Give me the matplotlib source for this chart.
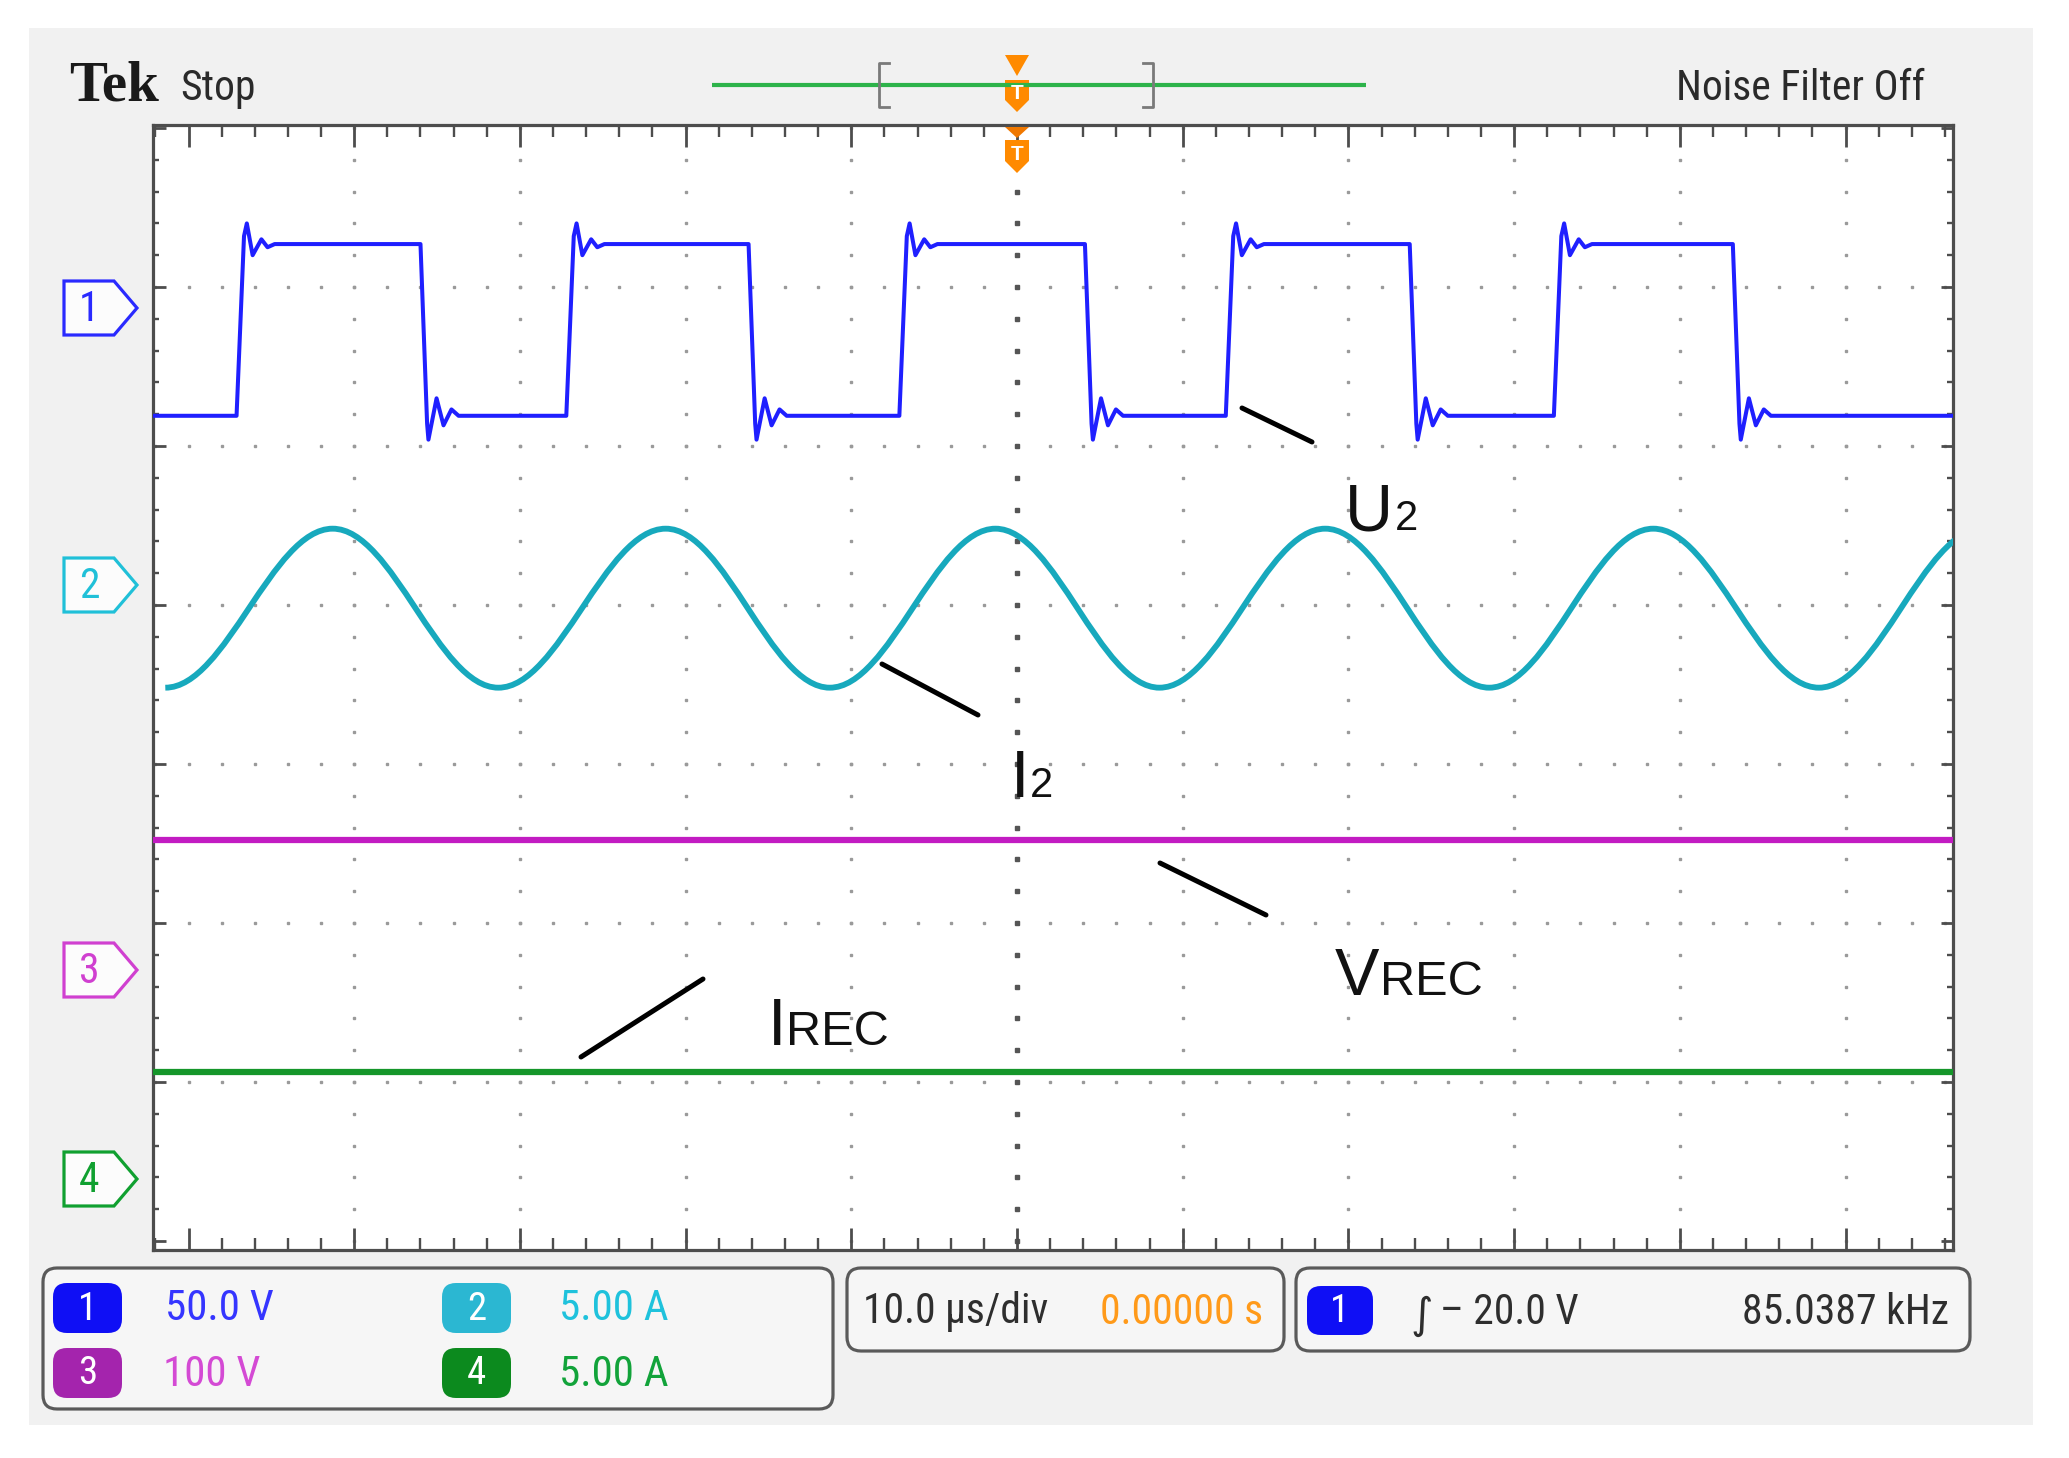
import numpy as np
import matplotlib
matplotlib.use('Agg')
import matplotlib.pyplot as plt
from matplotlib.patches import Polygon, FancyBboxPatch, Rectangle, PathPatch
from matplotlib.path import Path
from matplotlib.ticker import FixedLocator
from matplotlib import font_manager as fm

W, H = 2069, 1458

# ---- values ----
# time in us (10 us/div, 0 = trigger), level in divisions counted from the bottom grid line
u2_rise = [-47.1, -27.2, -7.1, 12.6, 32.4]
u2_fall = [-36.0, -16.2, 4.1, 23.7, 43.2]
u2_low, u2_high = 5.19, 6.27
# ringing after each edge: time after the edge (us) and offset from the settled level (div)
ring_rise_dt = [0.45, 0.62, 0.97, 1.50, 1.87, 2.30]
ring_rise_dv = [0.05, 0.13, -0.07, 0.03, -0.02, 0.0]
ring_fall_dt = [0.40, 0.48, 0.97, 1.39, 1.87, 2.30]
ring_fall_dv = [-0.05, -0.15, 0.11, -0.06, 0.04, 0.0]

# I2: turning points of the sine-like current
i2_ext_t = [-51.4, -41.3, -31.3, -21.2, -11.3, -1.3, 8.6, 18.6, 28.5, 38.4, 48.4, 58.3]
i2_ext_v = [3.48, 4.48, 3.48, 4.48, 3.48, 4.48, 3.48, 4.48, 3.48, 4.48, 3.48, 4.48]

vrec_t = [-52.1, 56.5]
vrec_v = [2.52, 2.52]
irec_t = [-52.1, 56.5]
irec_v = [1.06, 1.06]

ch_numbers = ['1', '2', '3', '4']
ch_scales = ['50.0 V', '5.00 A', '100 V', '5.00 A']
time_base = '10.0 µs/div'
trig_pos = '0.00000 s'
trig_edge = '∫'
trig_level = '– 20.0 V'
trig_freq = '85.0387 kHz'

C1, C2, C3, C4 = '#1f1fff', '#17a9bd', '#c21cc2', '#15962a'
TXT = ['#3535ff', '#1fc2dc', '#d44ad4', '#12a33a']
BADGE = ['#0f0ff5', '#2bb7d2', '#a424ad', '#0c8a1e']
MARK = ['#2a2aff', '#20c0d8', '#d040d0', '#10a030']
ORANGE = '#ff8a00'
SANS = 'Liberation Sans'


def pick_narrow():
    pref = ['Liberation Sans Narrow', 'Roboto Condensed', 'Open Sans Condensed',
            'DejaVu Sans', 'Noto Sans', 'Open Sans', 'Roboto', 'Lato', 'Inter']
    pool = []
    for f in fm.fontManager.ttflist:
        narrow = (str(f.stretch) in ('condensed', 'semi-condensed', 'extra-condensed')
                  or 'Narrow' in f.name or 'Condensed' in f.name)
        if narrow and f.style == 'normal' and str(f.weight) in ('400', 'normal', 'regular', 'book'):
            pool.append(f)
    for name in pref:
        for f in pool:
            if f.name == name and str(f.stretch) == 'condensed':
                return f.fname
        for f in pool:
            if f.name == name:
                return f.fname
    return pool[0].fname if pool else None


NARROW_FILE = pick_narrow()
NSCALE = 1.0 if NARROW_FILE else 0.82


def nfont(size):
    if NARROW_FILE:
        return fm.FontProperties(fname=NARROW_FILE, size=size)
    return fm.FontProperties(family=SANS, size=size * NSCALE)


fig = plt.figure(figsize=(W / 100, H / 100), dpi=100)

# background panel
bg = fig.add_axes([0, 0, 1, 1], zorder=0)
bg.set_xlim(0, W)
bg.set_ylim(H, 0)
bg.axis('off')
bg.add_patch(Rectangle((29, 28), 2004, 1397, fc='#f1f1f1', ec='none'))

# graticule axes
PX_L, PX_R, PX_T, PX_B = 153, 1953, 125, 1250
XL = ((PX_L - 1017) / 16.57, (PX_R - 1017) / 16.57)
YL = ((1241 - PX_B) / 159, (1241 - PX_T) / 159)
ax = fig.add_axes([PX_L / W, 1 - PX_B / H, (PX_R - PX_L) / W, (PX_B - PX_T) / H], zorder=1)
ax.set_xlim(XL)
ax.set_ylim(YL)
ax.set_facecolor('white')
for s in ax.spines.values():
    s.set_color('#4d4d4d')
    s.set_linewidth(2.3)
ax.xaxis.set_major_locator(FixedLocator(np.arange(-50, 51, 10)))
ax.xaxis.set_minor_locator(FixedLocator(np.arange(-52, 57, 2)))
ax.yaxis.set_major_locator(FixedLocator(np.arange(0, 8)))
ax.yaxis.set_minor_locator(FixedLocator(np.arange(0, 7.01, 0.2)))
ax.tick_params(which='both', direction='in', top=True, right=True,
               labelbottom=False, labelleft=False, color='#4d4d4d')
ax.tick_params(axis='x', which='major', length=16, width=2)
ax.tick_params(axis='x', which='minor', length=8.5, width=1.7)
ax.tick_params(axis='y', which='major', length=9, width=2)
ax.tick_params(axis='y', which='minor', length=4.5, width=1.7)

# dotted grid
minor_t = np.arange(-52, 57, 2.0)
minor_v = np.arange(0, 7.01, 0.2)
for v in range(1, 7):
    ax.plot(minor_t, np.full(len(minor_t), float(v)), ls='none', marker='s', ms=2,
            color='#9a9a9a', zorder=1)
for t in range(-40, 51, 10):
    big = t == 0
    ax.plot(np.full(len(minor_v), float(t)), minor_v, ls='none', marker='s',
            ms=2.8 if big else 2, color='#555555' if big else '#9a9a9a', zorder=1)

# U2 square wave
edges = sorted([(t, 'r') for t in u2_rise] + [(t, 'f') for t in u2_fall])
t_pts, v_pts = [XL[0]], [u2_low]
level = u2_low
for t0, kind in edges:
    t_pts.append(t0)
    v_pts.append(level)
    if kind == 'r':
        level, dts, dvs = u2_high, ring_rise_dt, ring_rise_dv
    else:
        level, dts, dvs = u2_low, ring_fall_dt, ring_fall_dv
    for dt, dv in zip(dts, dvs):
        t_pts.append(t0 + dt)
        v_pts.append(level + dv)
t_pts.append(XL[1])
v_pts.append(level)
ax.plot(t_pts, v_pts, color=C1, lw=2.9, zorder=3, solid_joinstyle='round')

# I2 drawn as cubic curves between its turning points
k = 0.364
verts = [(i2_ext_t[0], i2_ext_v[0])]
codes = [Path.MOVETO]
for i in range(len(i2_ext_t) - 1):
    ta, va, tb, vb = i2_ext_t[i], i2_ext_v[i], i2_ext_t[i + 1], i2_ext_v[i + 1]
    d = tb - ta
    verts += [(ta + k * d, va), (tb - k * d, vb), (tb, vb)]
    codes += [Path.CURVE4] * 3
ax.add_patch(PathPatch(Path(verts, codes), fill=False, edgecolor=C2, lw=4.2, zorder=3))

ax.plot(vrec_t, vrec_v, color=C3, lw=4.5, zorder=3)
ax.plot(irec_t, irec_v, color=C4, lw=4.5, zorder=3)

# foreground overlay in pixel coordinates
fg = fig.add_axes([0, 0, 1, 1], zorder=2)
fg.set_xlim(0, W)
fg.set_ylim(H, 0)
fg.axis('off')

cx = PX_L + (0 - XL[0]) / (XL[1] - XL[0]) * (PX_R - PX_L)

# header
fg.text(69, 100, 'Tek', family='Liberation Serif', weight='bold', fontsize=41, color='#1a1a1a', va='baseline')
fg.text(180, 100, 'Stop', fontproperties=nfont(30), color='#2a2a2a', va='baseline')
fg.text(1925, 100, 'Noise Filter Off', fontproperties=nfont(30), color='#2a2a2a', va='baseline', ha='right')

fg.plot([712, 1366], [85, 85], color='#2db34a', lw=3, solid_capstyle='butt')
fg.plot([cx - 128, cx - 138, cx - 138, cx - 128], [63, 63, 107, 107], color='#7a7a7a', lw=2)
fg.plot([cx + 126, cx + 136, cx + 136, cx + 126], [63, 63, 107, 107], color='#7a7a7a', lw=2)
fg.add_patch(Polygon([(cx - 12, 55), (cx + 12, 55), (cx, 76)], closed=True, fc=ORANGE, ec='none'))
fg.add_patch(Polygon([(cx - 12, 80), (cx + 12, 80), (cx + 12, 100), (cx, 112), (cx - 12, 100)],
                     closed=True, fc=ORANGE, ec='none'))
fg.text(cx, 93, 'T', color='white', fontsize=15, weight='bold', family=SANS, ha='center', va='center')
fg.add_patch(Polygon([(cx - 12, 127), (cx + 12, 127), (cx, 138)], closed=True, fc='#f07800', ec='none'))
fg.add_patch(Polygon([(cx - 12, 140), (cx + 12, 140), (cx + 12, 161), (cx, 173), (cx - 12, 161)],
                     closed=True, fc=ORANGE, ec='none'))
fg.text(cx, 154, 'T', color='white', fontsize=15, weight='bold', family=SANS, ha='center', va='center')

# channel ground markers
for num, cy, col in zip(ch_numbers, [308, 585, 970, 1179], MARK):
    fg.add_patch(Polygon([(64, cy - 27), (114, cy - 27), (137, cy), (114, cy + 27), (64, cy + 27)],
                         closed=True, fc='#fcfcfc', ec=col, lw=2.3))
    fg.text(89, cy + 1, num, color=col, fontproperties=nfont(30), ha='center', va='center')

# trace labels with pointer lines
for (x0, y0, x1, y1) in [(1242, 408, 1312, 442), (882, 664, 978, 715),
                         (1160, 863, 1266, 915), (581, 1057, 703, 979)]:
    fg.plot([x0, x1], [y0, y1], color='black', lw=3.6, solid_capstyle='round')
for big, small, xb, yb, fs, gap in [('U', '2', 1345, 530, 30, 1), ('I', '2', 1011, 797, 30, 0),
                                    ('V', 'REC', 1335, 995, 35, 0), ('I', 'REC', 768, 1045, 35, 0)]:
    tb = fg.text(xb, yb, big, family=SANS, fontsize=48, color='#111111', va='baseline')
    fg.annotate(small, xy=(1, yb), xycoords=(tb, 'data'), xytext=(gap, 0), textcoords='offset points',
                family=SANS, fontsize=fs, color='#111111', va='baseline', ha='left')

# bottom info boxes
box_kw = dict(boxstyle='round,pad=0,rounding_size=14', fc='#f6f6f6', ec='#5a5a5a', lw=2.3)
fg.add_patch(FancyBboxPatch((43, 1268), 790, 141, **box_kw))
fg.add_patch(FancyBboxPatch((847, 1268), 437, 83, **box_kw))
fg.add_patch(FancyBboxPatch((1296, 1268), 674, 83, **box_kw))

badge_kw = dict(boxstyle='round,pad=0,rounding_size=14', ec='none')
slots = [(53, 1283, 165), (442, 1283, 559), (53, 1348, 163), (442, 1348, 559)]
for (bx, by, tx), num, scale, bc, tc in zip(slots, ch_numbers, ch_scales, BADGE, TXT):
    fg.add_patch(FancyBboxPatch((bx, by), 69, 50, fc=bc, **badge_kw))
    fg.text(bx + 34.5, by + 26, num, color='white', fontproperties=nfont(28), ha='center', va='center')
    fg.text(tx, by + 26, scale, color=tc, fontproperties=nfont(31), va='center')

fg.text(863, 1312, time_base, color='#2e2e2e', fontproperties=nfont(30), va='center')
fg.text(1263, 1312, trig_pos, color='#ff9a1a', fontproperties=nfont(30), va='center', ha='right')
fg.add_patch(FancyBboxPatch((1307, 1286), 66, 49, fc=BADGE[0], **badge_kw))
fg.text(1340, 1312, ch_numbers[0], color='white', fontproperties=nfont(28), ha='center', va='center')
fg.text(1410, 1316, trig_edge, color='#2e2e2e', fontsize=31, family='DejaVu Sans', va='center')
fg.text(1440, 1312, trig_level, color='#2e2e2e', fontproperties=nfont(30), va='center')
fg.text(1949, 1312, trig_freq, color='#2e2e2e', fontproperties=nfont(30), va='center', ha='right')

fig.savefig('out.png', dpi=100, facecolor='white')
